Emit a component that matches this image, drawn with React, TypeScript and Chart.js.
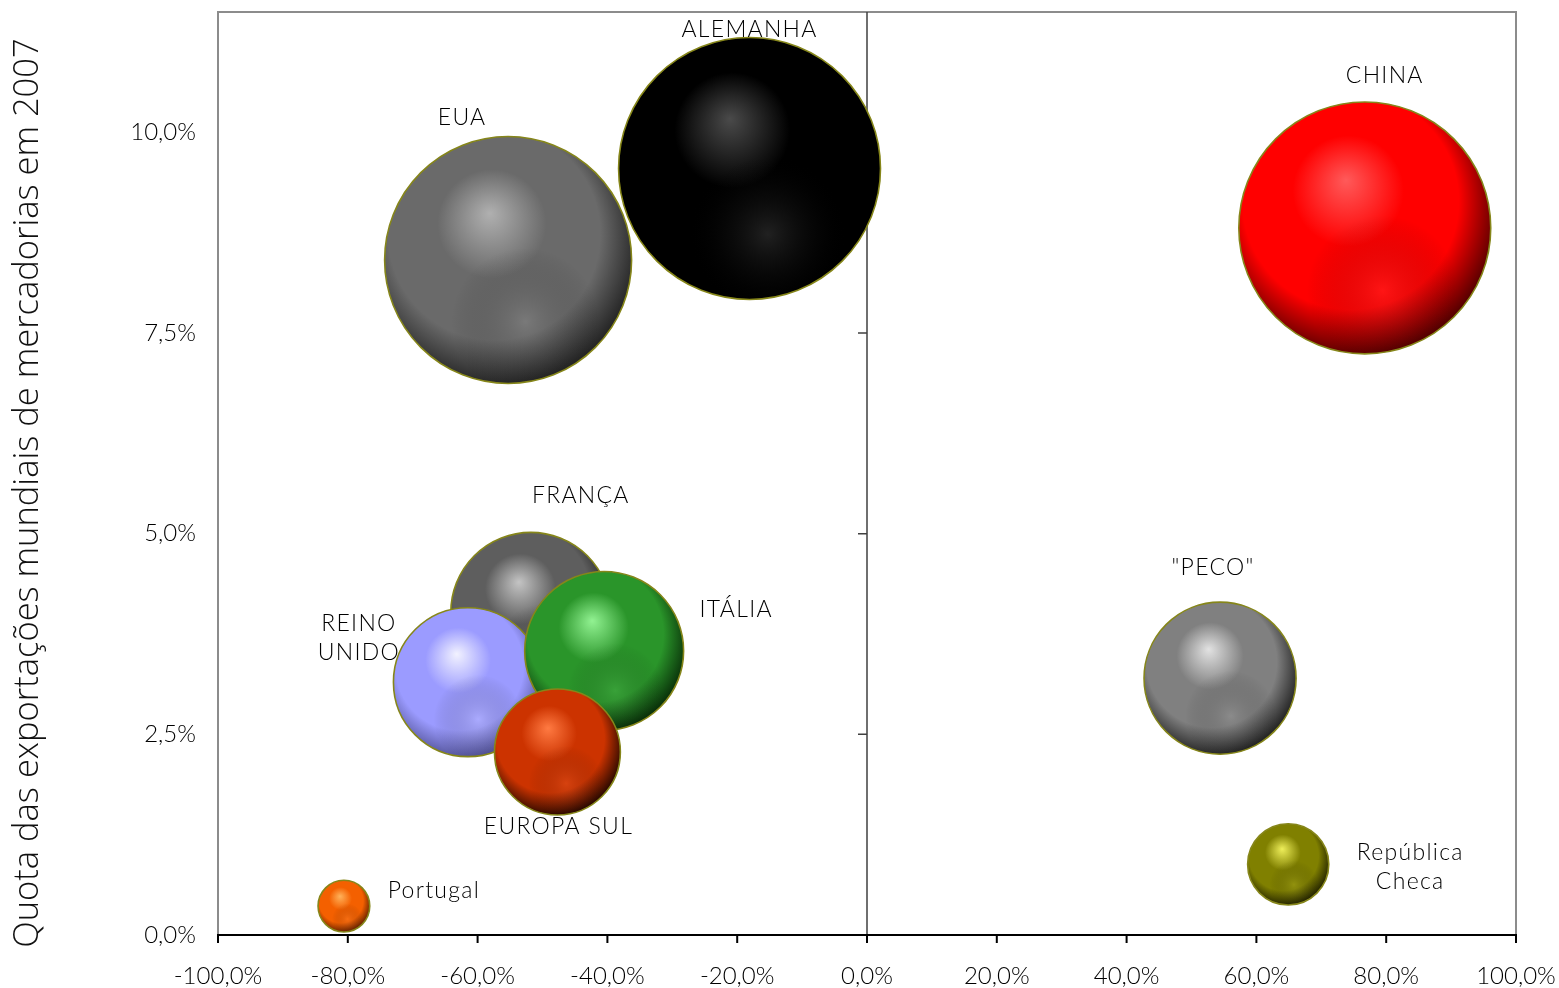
import React, { useEffect, useRef } from 'react';
import { Chart, registerables } from 'chart.js';

Chart.register(...registerables);

// ---------- DATA ----------
const countries = ['EUA', 'ALEMANHA', 'CHINA', 'FRANÇA', 'REINO UNIDO', 'ITÁLIA', 'EUROPA SUL', 'Portugal', '"PECO"', 'República Checa'];
// x: variação (%)
const growth = [-55.3, -18.1, 76.7, -51.8, -61.5, -40.5, -47.7, -80.6, 54.4, 64.9];
// y: quota das exportações mundiais de mercadorias em 2007 (%)
const share = [8.41, 9.55, 8.81, 4.02, 3.15, 3.54, 2.28, 0.36, 3.2, 0.88];
// bubble size (relative, area-proportional)
const bubbleSize = [88.9, 100, 92.5, 37.3, 32.3, 36.8, 23.1, 3.9, 33.7, 9.6];
const xTickValues = [-100, -80, -60, -40, -20, 0, 20, 40, 60, 80, 100];
const yTickValues = [0, 2.5, 5, 7.5, 10];
const yAxisTitle = 'Quota das exportações mundiais de mercadorias em 2007';

// ---------- STYLE ----------
const labelLines: string[][] = [['EUA'], ['ALEMANHA'], ['CHINA'], ['FRANÇA'], ['REINO', 'UNIDO'], ['ITÁLIA'], ['EUROPA SUL'], ['Portugal'], ['"PECO"'], ['República', 'Checa']];
const labelOffsets: [number, number][] = [[-46, -142], [0, -139], [20, -152], [50, -117], [-109, -44], [132, -41], [1, 75], [90, -16], [-7, -111], [122, 3]];
const palettes = [
  { hi: '#b0b0b0', base: '#6a6a6a', dark: '#262626', refl: 'rgba(150,150,150,0.35)' },
  { hi: '#4a4a4a', base: '#000000', dark: '#000000', refl: 'rgba(60,60,60,0.55)' },
  { hi: '#ff5a5a', base: '#ff0000', dark: '#5a0000', refl: 'rgba(255,70,70,0.3)' },
  { hi: '#c4c4c4', base: '#5e5e5e', dark: '#222222', refl: 'rgba(140,140,140,0.35)' },
  { hi: '#f2f2ff', base: '#9b9bff', dark: '#55559c', refl: 'rgba(200,200,255,0.35)' },
  { hi: '#92f292', base: '#2a952a', dark: '#0a330a', refl: 'rgba(90,190,90,0.3)' },
  { hi: '#ff7a42', base: '#cc3300', dark: '#2e0a00', refl: 'rgba(240,100,50,0.3)' },
  { hi: '#ffb25a', base: '#f46000', dark: '#6a2300', refl: 'rgba(255,140,60,0.3)' },
  { hi: '#e2e2e2', base: '#808080', dark: '#262626', refl: 'rgba(160,160,160,0.35)' },
  { hi: '#eeee5a', base: '#808000', dark: '#262600', refl: 'rgba(180,180,40,0.35)' },
];
const FONT = 'Lato';

function drawSphere(ctx: CanvasRenderingContext2D, x: number, y: number, r: number, p: any) {
  if (!(r > 0)) return;
  ctx.save();
  ctx.beginPath();
  ctx.arc(x, y, r, 0, Math.PI * 2);
  ctx.closePath();
  const g = ctx.createRadialGradient(x - 0.15 * r, y - 0.38 * r, 0, x - 0.1 * r, y - 0.15 * r, 1.16 * r);
  g.addColorStop(0, p.hi);
  g.addColorStop(0.38, p.base);
  g.addColorStop(0.74, p.base);
  g.addColorStop(1, p.dark);
  ctx.fillStyle = g;
  ctx.fill();
  ctx.clip();
  const g2 = ctx.createRadialGradient(x + 0.14 * r, y + 0.5 * r, 0, x + 0.14 * r, y + 0.5 * r, 0.6 * r);
  g2.addColorStop(0, p.refl);
  g2.addColorStop(1, 'rgba(0,0,0,0)');
  ctx.fillStyle = g2;
  ctx.fillRect(x - r, y - r, 2 * r, 2 * r);
  ctx.restore();
  ctx.beginPath();
  ctx.arc(x, y, r, 0, Math.PI * 2);
  ctx.lineWidth = 1.6;
  ctx.strokeStyle = '#86861a';
  ctx.stroke();
}

const fmt = (v: number) => v.toFixed(1).replace('.', ',') + '%';

export default function App() {
  const ref = useRef<HTMLCanvasElement | null>(null);
  useEffect(() => {
    document.body.style.margin = '0';
    const canvas = ref.current!;
    const framePlugin = {
      id: 'frame',
      beforeDatasetsDraw(chart: any) {
        const { ctx, chartArea: a, scales } = chart;
        ctx.save();
        ctx.strokeStyle = '#8c8c8c';
        ctx.lineWidth = 2;
        ctx.beginPath();
        ctx.moveTo(a.left, a.bottom);
        ctx.lineTo(a.left, a.top);
        ctx.lineTo(a.right, a.top);
        ctx.lineTo(a.right, a.bottom);
        ctx.stroke();
        const x0 = scales.x.getPixelForValue(0);
        ctx.strokeStyle = '#404040';
        ctx.lineWidth = 1.5;
        ctx.beginPath();
        ctx.moveTo(x0, a.top);
        ctx.lineTo(x0, a.bottom);
        yTickValues.forEach((v) => {
          const py = scales.y.getPixelForValue(v);
          ctx.moveTo(x0 - 9, py);
          ctx.lineTo(x0, py);
        });
        ctx.stroke();
        ctx.strokeStyle = '#000';
        ctx.lineWidth = 2;
        ctx.beginPath();
        ctx.moveTo(a.left - 1, a.bottom);
        ctx.lineTo(a.right + 1, a.bottom);
        xTickValues.forEach((v) => {
          const px = scales.x.getPixelForValue(v);
          ctx.moveTo(px, a.bottom);
          ctx.lineTo(px, a.bottom + 8);
        });
        ctx.stroke();
        ctx.restore();
      },
    };
    const spherePlugin = {
      id: 'spheres',
      beforeDatasetDraw(chart: any, args: any) {
        const ctx = chart.ctx;
        args.meta.data.forEach((el: any, i: number) => {
          const { x, y } = el.getProps(['x', 'y'], true);
          drawSphere(ctx, x, y, el.options.radius, palettes[i]);
        });
        return false;
      },
    };
    const labelPlugin = {
      id: 'labels',
      afterDatasetsDraw(chart: any) {
        const ctx = chart.ctx;
        const meta = chart.getDatasetMeta(0);
        ctx.save();
        ctx.font = `300 23px ${FONT}`;
        (ctx as any).letterSpacing = '1.3px';
        ctx.fillStyle = '#000';
        ctx.textAlign = 'center';
        ctx.textBaseline = 'middle';
        meta.data.forEach((el: any, i: number) => {
          const { x, y } = el.getProps(['x', 'y'], true);
          const lines = labelLines[i];
          const lh = 29;
          const [dx, dy] = labelOffsets[i];
          lines.forEach((t, k) => {
            ctx.fillText(t, x + dx, y + dy + (k - (lines.length - 1) / 2) * lh);
          });
        });
        (ctx as any).letterSpacing = '0px';
        ctx.translate(28, 493);
        ctx.rotate(-Math.PI / 2);
        ctx.font = `300 34.5px "Open Sans"`;
        ctx.fillStyle = '#111';
        ctx.fillText(yAxisTitle, 0, 0);
        ctx.restore();
      },
    };
    const tickFont = { family: FONT, size: 24, weight: '300' as any };
    const chart = new Chart(canvas, {
      type: 'bubble',
      data: {
        datasets: [
          {
            label: 'Países',
            data: countries.map((c, i) => ({ x: growth[i], y: share[i], v: bubbleSize[i] })) as any,
            radius: (ctx: any) => {
              const a = ctx.chart.chartArea;
              const w = a ? a.right - a.left : 1298;
              const v = ctx.raw ? ctx.raw.v : 0;
              return w * 0.1009 * Math.sqrt(v / 100);
            },
            clip: false,
          } as any,
        ],
      },
      options: {
        responsive: false,
        animation: false,
        events: [],
        layout: { autoPadding: false, padding: { top: 12, right: 43, left: 0, bottom: 0 } },
        plugins: { legend: { display: false }, tooltip: { enabled: false } },
        scales: {
          x: {
            type: 'linear',
            min: -100,
            max: 100,
            grid: { display: false },
            border: { display: false },
            afterBuildTicks: (s: any) => {
              s.ticks = xTickValues.map((v) => ({ value: v }));
            },
            afterFit: (s: any) => {
              s.height = 53;
              s.paddingLeft = 0;
              s.paddingRight = 0;
            },
            ticks: {
              padding: 19,
              color: '#000',
              font: tickFont,
              callback: (v: any) => fmt(Number(v)),
              maxRotation: 0,
              autoSkip: false,
            },
          },
          y: {
            type: 'linear',
            min: 0,
            max: 11.5,
            grid: { display: false },
            border: { display: false },
            afterBuildTicks: (s: any) => {
              s.ticks = yTickValues.map((v) => ({ value: v }));
            },
            afterFit: (s: any) => {
              s.width = 218;
              s.paddingTop = 0;
              s.paddingBottom = 0;
            },
            ticks: {
              padding: 14,
              color: '#000',
              font: tickFont,
              callback: (v: any) => fmt(Number(v)),
            },
          },
        },
      },
      plugins: [framePlugin, spherePlugin, labelPlugin],
    });
    return () => chart.destroy();
  }, []);
  return (
    <div style={{ position: 'absolute', left: 0, top: 0, width: 1559, height: 988, background: '#fff' }}>
      <canvas ref={ref} width={1559} height={988} style={{ display: 'block', width: 1559, height: 988 }} />
    </div>
  );
}
